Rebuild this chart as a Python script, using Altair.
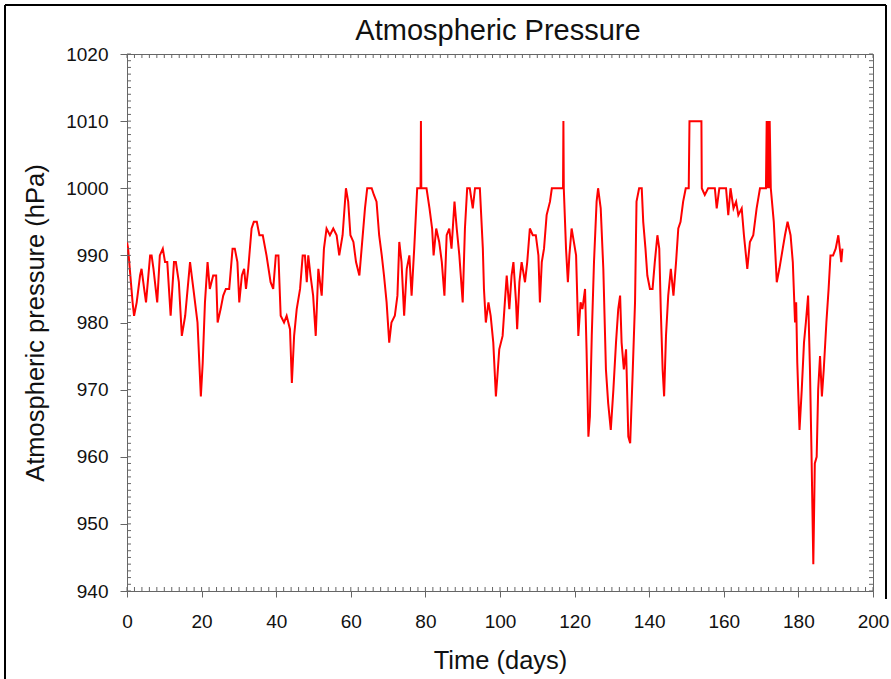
import altair as alt
import pandas as pd

DAYS = [0.0, 0.3, 1.5, 1.9, 2.6, 3.5, 3.9, 4.6, 5.1, 6.2, 6.6, 7.1, 8.1, 8.8, 9.6, 10.2, 10.8, 11.7,
        12.6, 13.1, 13.9, 14.7, 15.6, 16.9, 17.8, 18.9, 19.8, 20.3, 20.9, 21.6, 22.2, 23.1, 23.9,
        24.3, 25.1, 25.8, 26.5, 27.4, 28.3, 28.9, 29.6, 30.1, 30.8, 31.4, 31.9, 32.5, 33.4, 34.0,
        34.8, 35.5, 36.4, 37.4, 38.5, 39.2, 39.9, 40.6, 41.2, 42.1, 42.8, 43.7, 44.2, 44.8, 45.5,
        46.4, 47.1, 47.7, 48.2, 48.6, 49.2, 49.9, 50.6, 51.3, 52.2, 52.8, 53.5, 54.4, 55.3, 56.2,
        56.9, 57.8, 58.7, 59.3, 59.9, 60.7, 61.4, 62.3, 62.9, 63.8, 64.4, 65.6, 66.2, 66.9, 67.6,
        68.3, 68.9, 69.6, 70.3, 70.9, 71.8, 72.5, 73.0, 73.6, 74.3, 75.0, 75.7, 76.3, 77.0, 77.8,
        78.7, 78.8, 78.9, 80.3, 81.1, 81.8, 82.2, 82.9, 83.7, 84.4, 85.1, 85.7, 86.4, 87.0, 87.8,
        88.4, 89.1, 90.0, 90.6, 91.2, 91.9, 92.7, 93.3, 94.6, 95.4, 95.7, 96.2, 96.9, 97.5, 98.2,
        98.9, 99.3, 99.8, 100.7, 101.3, 101.8, 102.5, 103.1, 103.6, 104.3, 104.6, 105.2, 105.8,
        106.7, 107.3, 108.0, 108.8, 109.6, 110.3, 110.7, 111.2, 111.8, 112.5, 113.4, 113.9, 116.1,
        116.9, 117.0, 117.1, 117.7, 118.2, 118.6, 119.2, 119.8, 120.4, 121.0, 121.6, 122.1, 122.8,
        123.2, 123.7, 124.1, 124.6, 125.2, 125.9, 126.3, 127.0, 127.7, 128.4, 129.0, 129.7, 130.4,
        131.1, 131.7, 132.2, 132.6, 133.2, 133.8, 134.4, 134.9, 135.6, 136.2, 136.6, 137.3, 138.0,
        138.4, 139.0, 139.5, 140.2, 140.9, 141.5, 142.2, 142.7, 143.1, 143.6, 144.0, 144.5, 145.1,
        145.8, 146.5, 147.2, 147.8, 148.4, 149.1, 149.8, 150.6, 150.8, 154.0, 154.1, 154.9, 155.8,
        157.6, 158.1, 158.8, 160.6, 161.2, 161.8, 162.6, 163.3, 163.9, 164.8, 165.4, 166.3, 167.0,
        167.9, 168.8, 169.7, 171.3, 171.5, 171.7, 171.9, 172.1, 172.3, 172.6, 173.4, 174.2, 174.9,
        175.8, 176.4, 177.1, 177.9, 178.5, 179.1, 179.4, 179.7, 180.3, 180.9, 181.5, 182.0, 182.6,
        183.1, 183.5, 184.0, 184.4, 184.9, 185.3, 185.8, 186.3, 186.8, 187.5, 188.1, 188.6, 189.3,
        190.0, 190.7, 191.1, 191.5, 191.8]

PRESSURE = [992, 991, 983, 981, 983, 987, 988, 985, 983, 990, 990, 988, 983, 990, 991, 989, 989, 981,
            989, 989, 986, 978, 981, 989, 985, 980, 969, 974, 983, 989, 985, 987, 987,
            980, 982, 984, 985, 985, 991, 991, 989, 983, 987, 988, 985, 988, 994, 995,
            995, 993, 993, 990, 986, 985, 990, 990, 981, 980, 981, 979, 971, 978, 982,
            985, 990, 990, 986, 990, 987, 984, 978, 988, 984, 991, 994, 993, 994, 993,
            990, 993, 1000, 998, 993, 992, 989, 987, 991, 997, 1000, 1000, 999, 998, 993,
            990, 987, 983, 977, 980, 981, 984, 992, 989, 981, 988, 990, 984, 991, 1000,
            1000, 1010, 1000, 1000, 997, 994, 990, 994, 992, 989, 984, 993, 994, 991, 998,
            994, 990, 983, 994, 1000, 1000, 997, 1000, 1000, 991, 985, 980, 983, 981, 977,
            969, 972, 976, 978, 983, 987, 982, 987, 989, 983, 979, 986, 989,
            986, 989, 994, 993, 993, 990, 983, 989, 991, 996, 998, 1000, 1000,
            1000, 1010, 1000, 991, 986, 990, 994, 992, 990, 978, 983, 982, 985,
            976, 963, 966, 978, 989, 998, 1000, 997, 988, 973, 968, 964, 970,
            977, 982, 984, 977, 973, 976, 963, 962, 973, 983, 998, 1000, 1000,
            995, 991, 987, 985, 985, 989, 993, 991, 982, 973, 969, 978, 984,
            988, 984, 989, 994, 995, 998, 1000, 1000, 1010, 1010, 1000, 999, 1000,
            1000, 997, 1000, 1000, 996, 1000, 997, 998, 996, 997, 993, 988, 992,
            993, 997, 1000, 1000, 1010, 1000, 1010, 1000, 1010, 1000, 995, 986, 988,
            991, 993, 995, 993, 989, 980, 983, 974, 964, 970, 977, 980, 984,
            973, 961, 944, 959, 960, 970, 975, 969, 973, 980, 985, 990, 990,
            991, 993, 991, 989, 991]

X_MAJOR = list(range(0, 201, 20))
X_MINOR = list(range(0, 201, 2))
Y_MAJOR = list(range(940, 1021, 10))
Y_MINOR = list(range(940, 1021, 1))

TITLE = "Atmospheric Pressure"
X_TITLE = "Time (days)"
Y_TITLE = "Atmospheric pressure (hPa)"

W, H = 746, 537
AX = "#666666"
TXT = "#111111"
FONT = "Liberation Sans"

df = pd.DataFrame({"day": DAYS, "pressure": PRESSURE})
xminor = pd.DataFrame({"v": X_MINOR})
yminor = pd.DataFrame({"v": Y_MINOR})
xs = alt.Scale(domain=[0, 200], nice=False)
ys = alt.Scale(domain=[940, 1020], nice=False, zero=False)

x_axis = alt.Axis(
    values=X_MAJOR, format="d", tickSize=6, tickColor=AX, domainColor=AX, grid=False,
    labelFlush=False, labelOverlap=False,
    labelFont=FONT, labelFontSize=19, labelColor=TXT, labelPadding=15,
    title=X_TITLE, titleFont=FONT, titleFontSize=25.5, titleFontWeight="normal",
    titleColor=TXT, titleX=W / 2, titleY=77, titleBaseline="alphabetic",
    titleAlign="center")
y_axis = alt.Axis(
    values=Y_MAJOR, format="d", tickSize=7, tickColor=AX, domainColor=AX, grid=False,
    labelFlush=False, labelOverlap=False,
    labelFont=FONT, labelFontSize=19, labelColor=TXT, labelPadding=12,
    title=Y_TITLE, titleFont=FONT, titleFontSize=25.5, titleFontWeight="normal",
    titleColor=TXT, titleAngle=270, titleX=-92, titleY=H / 2,
    titleBaseline="middle", titleAlign="center")

line = alt.Chart(df).mark_line(color="#ff0000", strokeWidth=2, clip=True).encode(
    x=alt.X("day:Q", scale=xs, axis=x_axis),
    y=alt.Y("pressure:Q", scale=ys, axis=y_axis),
)

tick_style = dict(color=AX, strokeWidth=1)
top_ticks = alt.Chart(xminor).mark_rule(**tick_style).encode(
    x=alt.X("v:Q", scale=xs, axis=x_axis), y=alt.value(0), y2=alt.value(4))
bottom_ticks = alt.Chart(xminor).mark_rule(**tick_style).encode(
    x=alt.X("v:Q", scale=xs, axis=x_axis), y=alt.value(H - 4), y2=alt.value(H))
left_ticks = alt.Chart(yminor).mark_rule(**tick_style).encode(
    y=alt.Y("v:Q", scale=ys, axis=y_axis), x=alt.value(0), x2=alt.value(4))
right_ticks = alt.Chart(yminor).mark_rule(**tick_style).encode(
    y=alt.Y("v:Q", scale=ys, axis=y_axis), x=alt.value(W - 4), x2=alt.value(W))

one = pd.DataFrame({"k": [0]})
title_mark = alt.Chart(one).mark_text(
    text=TITLE, font=FONT, fontSize=29, color=TXT, align="center", baseline="alphabetic"
).encode(x=alt.value(371), y=alt.value(-14))

frame_left = alt.Chart(one).mark_rule(color="black", strokeWidth=2).encode(
    x=alt.value(-122), y=alt.value(-49), y2=alt.value(630))
frame_top = alt.Chart(one).mark_rule(color="black", strokeWidth=2).encode(
    x=alt.value(-122), x2=alt.value(759), y=alt.value(-49))
frame_right = alt.Chart(one).mark_rule(color="black", strokeWidth=2).encode(
    x=alt.value(759), y=alt.value(-49), y2=alt.value(545))

chart = alt.layer(
    line, top_ticks, bottom_ticks, left_ticks, right_ticks,
    title_mark, frame_left, frame_top, frame_right
).properties(
    width=W, height=H,
    autosize=alt.AutoSizeParams(type="none"),
    padding={"left": 127, "top": 54, "right": 18, "bottom": 88},
    background="white",
).configure_view(stroke=AX, strokeWidth=1)

chart.save("out.html", embed_options={"renderer": "svg", "actions": False})
